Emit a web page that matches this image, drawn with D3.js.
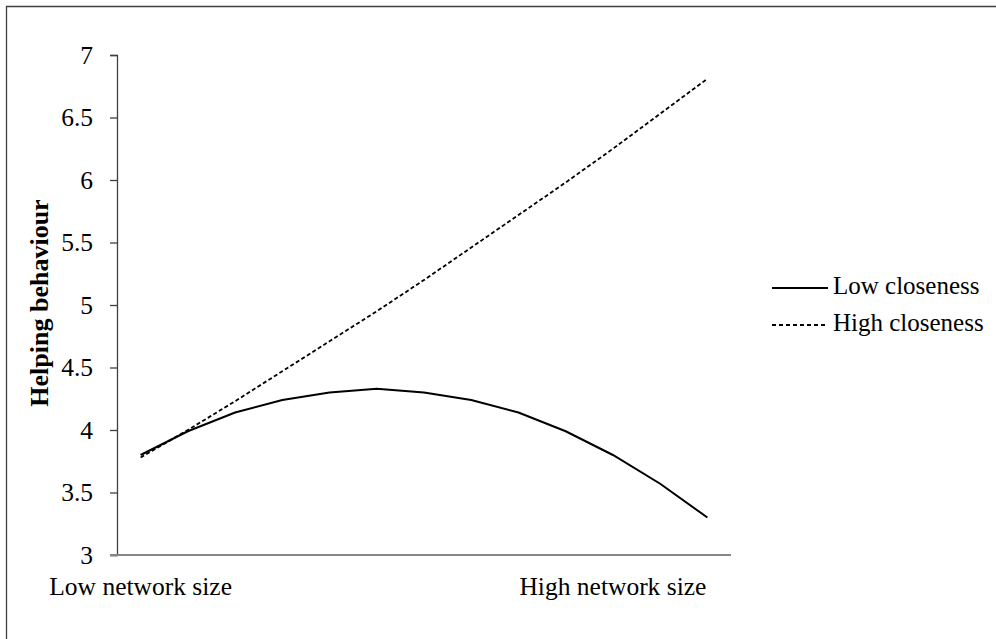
<!DOCTYPE html>
<html>
<head>
<meta charset="utf-8">
<script src="https://cdn.jsdelivr.net/npm/d3@7"></script>
<style>
  html, body { margin: 0; padding: 0; background: #fff; }
  svg { display: block; }
  text { font-family: "Liberation Serif", "Times New Roman", serif; fill: #000; }
</style>
</head>
<body>
<svg id="chart" width="996" height="639"></svg>
<script>
// ---- Data ----
const categories = ["Low network size", "", "", "", "", "", "", "", "", "", "High network size", "", ""];
const lowCloseness  = [3.80, 3.99, 4.14, 4.24, 4.30, 4.33, 4.30, 4.24, 4.14, 3.99, 3.80, 3.57, 3.30];
const highCloseness = [3.78, 4.00, 4.23, 4.47, 4.71, 4.95, 5.20, 5.46, 5.72, 5.98, 6.25, 6.53, 6.81];
const yTicks = [3, 3.5, 4, 4.5, 5, 5.5, 6, 6.5, 7];
const seriesNames = ["Low closeness", "High closeness"];
const yTitle = "Helping behaviour";

// ---- Layout ----
const serif = "'Liberation Serif', 'Times New Roman', serif";
const svg = d3.select("#chart");
const idx = categories.map((_, i) => i);
const x = d3.scaleBand().domain(idx).range([117, 731]).paddingInner(0).paddingOuter(0);
const y = d3.scaleLinear().domain([3, 7]).range([555, 55]);
const cx = i => x(i) + x.bandwidth() / 2;

// outer frame (top & left)
svg.append("line").attr("x1", 6).attr("x2", 996).attr("y1", 6.5).attr("y2", 6.5)
  .attr("stroke", "#404040").attr("stroke-width", 1.3);
svg.append("line").attr("x1", 6.5).attr("x2", 6.5).attr("y1", 6).attr("y2", 639)
  .attr("stroke", "#404040").attr("stroke-width", 1.3);

// y axis
const yAxis = d3.axisLeft(y).tickValues(yTicks).tickSize(7).tickPadding(17)
  .tickFormat(d => String(d));
const gy = svg.append("g").attr("transform", "translate(117,0)").call(yAxis);
gy.attr("font-family", null);
gy.select(".domain").attr("stroke", "#404040").attr("stroke-width", 1.3);
gy.selectAll(".tick line").attr("stroke", "#404040").attr("stroke-width", 1.3);
gy.selectAll(".tick text").style("font-family", serif)
  .attr("font-size", 25.5).attr("fill", "#000");

// x axis
const xAxis = d3.axisBottom(x).tickSize(0).tickPadding(22).tickFormat(i => categories[i]);
const gx = svg.append("g").attr("transform", "translate(0,555)").call(xAxis);
gx.attr("font-family", null);
gx.select(".domain").remove();
gx.selectAll(".tick text").style("font-family", serif)
  .attr("font-size", 25.5).attr("fill", "#000");
svg.append("line").attr("x1", 110).attr("x2", x.range()[1]).attr("y1", y(3)).attr("y2", y(3))
  .attr("stroke", "#868686").attr("stroke-width", 2.2);

// y title
svg.append("text")
  .attr("transform", "translate(48,303) rotate(-90)")
  .attr("text-anchor", "middle")
  .style("font-family", serif)
  .attr("font-size", 26).attr("font-weight", "bold")
  .text(yTitle);

// lines
const line = d3.line().x((d, i) => cx(i)).y(d => y(d));
svg.append("path").datum(highCloseness).attr("d", line)
  .attr("fill", "none").attr("stroke", "#000").attr("stroke-width", 1.8)
  .attr("stroke-dasharray", "4,2.5");
svg.append("path").datum(lowCloseness).attr("d", line)
  .attr("fill", "none").attr("stroke", "#000").attr("stroke-width", 2);

// legend
const legend = svg.append("g");
const legY = [288, 325];
seriesNames.forEach((name, k) => {
  legend.append("line").attr("x1", 772).attr("x2", 828).attr("y1", legY[k]).attr("y2", legY[k])
    .attr("stroke", "#000").attr("stroke-width", 1.8)
    .attr("stroke-dasharray", k === 1 ? "4,3" : null);
  legend.append("text").attr("x", 833).attr("y", legY[k] + 6)
    .style("font-family", serif)
    .attr("font-size", 25).text(name);
});
</script>
</body>
</html>
